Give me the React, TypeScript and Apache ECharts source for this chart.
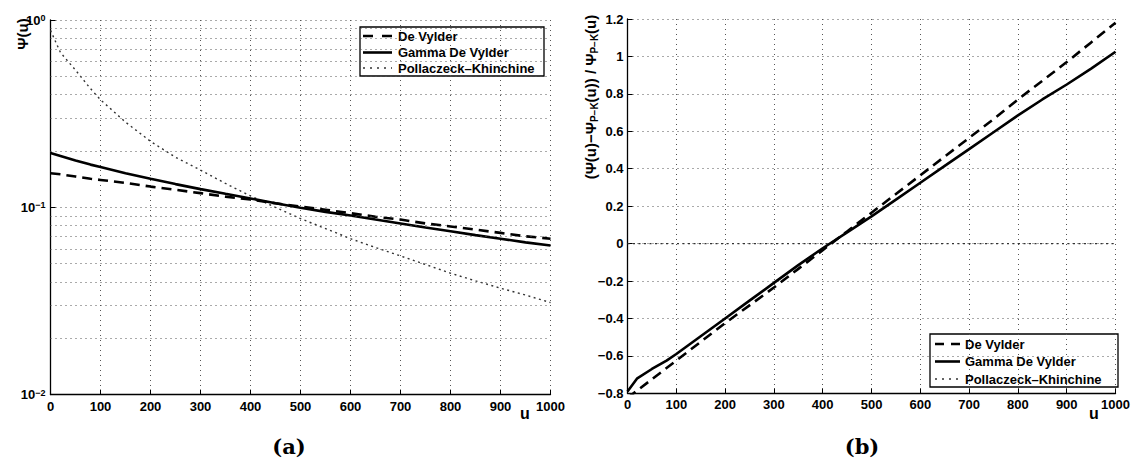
import { useEffect, useRef } from 'react';
import * as echarts from 'echarts';

const FONT = 'Liberation Sans';
const SERIF = 'DejaVu Serif';

// shared u values
const U = [0, 20, 50, 80, 100, 150, 200, 250, 300, 350, 400, 450, 500, 550, 600, 650, 700, 750, 800, 850, 900, 950, 1000];

// panel (a): ruin probability Psi(u), log scale
const DV_A = [0.152, 0.150, 0.146, 0.142, 0.140, 0.135, 0.129, 0.124, 0.119, 0.114, 0.110, 0.105, 0.101, 0.097, 0.093, 0.089, 0.086, 0.082, 0.079, 0.076, 0.073, 0.070, 0.068];
const GDV_A = [0.195, 0.188, 0.178, 0.169, 0.164, 0.152, 0.142, 0.133, 0.125, 0.118, 0.1115, 0.105, 0.0995, 0.0945, 0.0905, 0.086, 0.082, 0.078, 0.0745, 0.071, 0.068, 0.065, 0.0625];
const PK_A = [0.88, 0.67, 0.54, 0.43, 0.375, 0.285, 0.225, 0.185, 0.158, 0.134, 0.115, 0.100, 0.087, 0.077, 0.068, 0.061, 0.055, 0.0495, 0.0445, 0.0405, 0.037, 0.034, 0.031];

// panel (b): relative error
const DV_B = [-0.825, -0.785, -0.725, -0.665, -0.625, -0.525, -0.425, -0.33, -0.235, -0.135, -0.035, 0.065, 0.165, 0.265, 0.365, 0.465, 0.565, 0.665, 0.77, 0.87, 0.97, 1.075, 1.18];
const GDV_B = [-0.79, -0.72, -0.67, -0.625, -0.59, -0.495, -0.40, -0.305, -0.21, -0.115, -0.025, 0.06, 0.145, 0.235, 0.325, 0.415, 0.505, 0.595, 0.685, 0.77, 0.85, 0.935, 1.025];
const PK_B = [0, 0, 0, 0, 0, 0, 0, 0, 0, 0, 0, 0, 0, 0, 0, 0, 0, 0, 0, 0, 0, 0, 0];

// log-axis minor grid levels
const MINOR_A = [0.02, 0.03, 0.04, 0.05, 0.06, 0.07, 0.08, 0.09, 0.2, 0.3, 0.4, 0.5, 0.6, 0.7, 0.8, 0.9];

const LEGEND_NAMES = ['De Vylder', 'Gamma De Vylder', 'Pollaczeck\u2013Khinchine'];

const zip = (xs: number[], ys: number[]) => xs.map((x, i) => [x, ys[i]]);

const GRID_LINE = { type: [1, 4] as number[], color: '#555', width: 1 };
const DASH = { color: '#000', width: 2.6, type: [10, 6] as number[] };
const SOLID = { color: '#000', width: 2.6, type: 'solid' as const };
const DOT = { color: '#333', width: 1.4, type: [2, 3.5] as number[] };

const axisBase = {
  axisLine: { show: true, onZero: false, lineStyle: { color: '#000', width: 1.3 } },
  axisTick: { show: true, inside: true, length: 5, lineStyle: { color: '#000', width: 1 } },
  splitLine: { show: true, lineStyle: GRID_LINE },
};

function legendGroup(x: number, y: number, w: number, h: number, rows: number[], s0: number, s1: number, tx: number, dash: number[]) {
  const styles = [
    { stroke: '#000', lineWidth: 2.6, lineDash: dash },
    { stroke: '#000', lineWidth: 2.6 },
    { stroke: '#333', lineWidth: 1.4, lineDash: [2, 5] },
  ];
  const children: any[] = [
    { type: 'rect', shape: { x, y, width: w, height: h }, style: { fill: '#fff', stroke: '#000', lineWidth: 1.3 } },
  ];
  rows.forEach((ry, i) => {
    children.push({ type: 'line', shape: { x1: s0, y1: ry, x2: s1, y2: ry }, style: styles[i] });
    children.push({
      type: 'text', x: tx, y: ry,
      style: { text: LEGEND_NAMES[i], fontFamily: FONT, fontWeight: 'bold', fontSize: 13, fill: '#000', align: 'left', verticalAlign: 'middle' },
    });
  });
  return { type: 'group', z: 100, children };
}

function fmtB(v: number) {
  const s = String(Number(v.toFixed(1)));
  return s.replace('-', '\u2212');
}

export default function App() {
  const ref = useRef<HTMLDivElement>(null);
  useEffect(() => {
    const chart = echarts.init(ref.current!, null, { renderer: 'svg' });
    const xLabel = { show: true, margin: 5, color: '#000', fontFamily: FONT, fontWeight: 'bold', fontSize: 13, formatter: (v: number) => String(v) };
    const option: any = {
      animation: false,
      backgroundColor: '#fff',
      textStyle: { fontFamily: FONT, fontWeight: 'bold', fontSize: 13, color: '#000' },
      grid: [
        { left: 50.5, top: 20, width: 500, height: 374.6 },
        { left: 627.5, top: 19, width: 491.5, height: 374.3 },
      ],
      xAxis: [
        { ...axisBase, type: 'value', gridIndex: 0, min: 0, max: 1000, interval: 100, axisLabel: xLabel },
        { ...axisBase, type: 'value', gridIndex: 1, min: 0, max: 1000, interval: 100, axisLabel: xLabel },
      ],
      yAxis: [
        {
          ...axisBase, type: 'log', gridIndex: 0, min: 0.01, max: 1, logBase: 10, interval: 1,
          axisLabel: {
            show: true, margin: 5, color: '#000', fontFamily: FONT, fontWeight: 'bold', fontSize: 13,
            formatter: (v: number) => {
              const e = Math.round(Math.log10(v));
              return `{b|10}{s|${String(e).replace('-', '\u2212')}}`;
            },
            rich: {
              b: { color: '#000', fontFamily: FONT, fontWeight: 'bold', fontSize: 13, lineHeight: 13, verticalAlign: 'bottom' },
              s: { color: '#000', fontFamily: FONT, fontWeight: 'bold', fontSize: 9, lineHeight: 9, padding: [0, 0, 7, 0], verticalAlign: 'top' },
            },
          },
        },
        {
          ...axisBase, type: 'value', gridIndex: 1, min: -0.8, max: 1.2, interval: 0.2,
          axisLabel: { show: true, margin: 4, color: '#000', fontFamily: FONT, fontWeight: 'bold', fontSize: 13, formatter: fmtB },
        },
      ],
      series: [
        {
          name: 'PK_a', type: 'line', xAxisIndex: 0, yAxisIndex: 0, data: zip(U, PK_A),
          showSymbol: false, symbol: 'none', lineStyle: DOT, z: 2,
          markLine: {
            silent: true, symbol: ['none', 'none'], label: { show: false },
            lineStyle: GRID_LINE, emphasis: { disabled: true },
            data: MINOR_A.map((v) => ({ yAxis: v })),
          },
        },
        { name: 'DV_a', type: 'line', xAxisIndex: 0, yAxisIndex: 0, data: zip(U, DV_A), showSymbol: false, symbol: 'none', lineStyle: DASH, z: 3 },
        { name: 'GDV_a', type: 'line', xAxisIndex: 0, yAxisIndex: 0, data: zip(U, GDV_A), showSymbol: false, symbol: 'none', lineStyle: SOLID, z: 3 },
        { name: 'PK_b', type: 'line', xAxisIndex: 1, yAxisIndex: 1, data: zip(U, PK_B), showSymbol: false, symbol: 'none', lineStyle: DOT, z: 2 },
        { name: 'DV_b', type: 'line', xAxisIndex: 1, yAxisIndex: 1, data: zip(U, DV_B), showSymbol: false, symbol: 'none', lineStyle: DASH, z: 3 },
        { name: 'GDV_b', type: 'line', xAxisIndex: 1, yAxisIndex: 1, data: zip(U, GDV_B), showSymbol: false, symbol: 'none', lineStyle: SOLID, z: 3 },
      ],
      graphic: [
        {
          type: 'text', x: 22, y: 34, rotation: Math.PI / 2,
          style: { text: '\u03A8(u)', fontFamily: FONT, fontWeight: 'bold', fontSize: 15, fill: '#000', align: 'center', verticalAlign: 'middle' },
        },
        {
          type: 'text', x: 590, y: 97, rotation: Math.PI / 2,
          style: {
            text: '{m|(\u03A8(u)\u2212\u03A8}{s|P\u2212K}{m|(u)) / \u03A8}{s|P\u2212K}{m|(u)}',
            align: 'center', verticalAlign: 'middle',
            fill: '#000',
            rich: {
              m: { fontFamily: FONT, fontWeight: 'bold', fontSize: 15, lineHeight: 15, verticalAlign: 'top', fill: '#000' },
              s: { fontFamily: FONT, fontWeight: 'bold', fontSize: 10, lineHeight: 10, padding: [7, 0, 0, 0], verticalAlign: 'top', fill: '#000' },
            },
          },
        },
        {
          type: 'text', x: 525, y: 413,
          style: { text: 'u', fontFamily: FONT, fontWeight: 'bold', fontSize: 16, fill: '#000', align: 'center', verticalAlign: 'middle' },
        },
        {
          type: 'text', x: 1094, y: 413,
          style: { text: 'u', fontFamily: FONT, fontWeight: 'bold', fontSize: 16, fill: '#000', align: 'center', verticalAlign: 'middle' },
        },
        {
          type: 'text', x: 289, y: 446,
          style: { text: '(a)', fontFamily: SERIF, fontWeight: 'bold', fontSize: 21, fill: '#000', align: 'center', verticalAlign: 'middle' },
        },
        {
          type: 'text', x: 862, y: 446,
          style: { text: '(b)', fontFamily: SERIF, fontWeight: 'bold', fontSize: 21, fill: '#000', align: 'center', verticalAlign: 'middle' },
        },
        legendGroup(360, 27, 184, 49, [36, 52.5, 68], 363, 392, 398, [10, 9]),
        legendGroup(930, 334, 188, 53, [344, 361.5, 379], 935, 960, 965, [9, 7]),
      ],
    };
    chart.setOption(option);
    return () => chart.dispose();
  }, []);
  return <div ref={ref} style={{ position: 'absolute', left: 0, top: 0, width: 1133, height: 458, background: '#fff' }} />;
}
